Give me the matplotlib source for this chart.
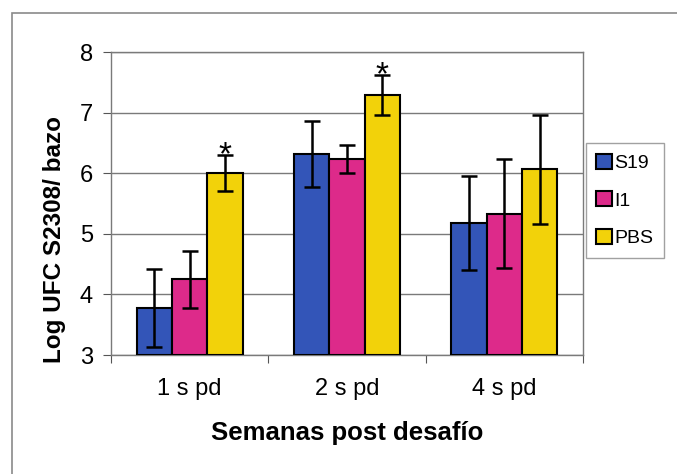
import numpy as np
import matplotlib.pyplot as plt
from matplotlib.patches import Rectangle

plt.rcParams['font.family'] = ['Liberation Sans', 'DejaVu Sans']

grupos = ['1 s pd', '2 s pd', '4 s pd']
series = ['S19', 'I1', 'PBS']
colores = ['#3355b8', '#dd2a8a', '#f2d20a']
medias = [
    [3.78, 6.32, 5.18],   # S19
    [4.25, 6.23, 5.33],   # I1
    [6.00, 7.30, 6.07],   # PBS
]
errores = [
    [0.64, 0.55, 0.77],
    [0.47, 0.23, 0.90],
    [0.30, 0.33, 0.90],
]
significativo = [True, True, False]  # asterisco sobre PBS

fig = plt.figure(figsize=(6.77, 4.74), dpi=100)
fig.patches.append(Rectangle((0.017, -0.1), 1.1, 1.073, transform=fig.transFigure,
                             fill=False, edgecolor='#8a8a8a', linewidth=1.2))
ax = fig.add_axes([0.164, 0.251, 0.697, 0.639])

x = np.arange(len(grupos))
w = 0.225
for i, s in enumerate(series):
    pos = x + (i - 1) * w
    ax.bar(pos, np.array(medias[i]) - 3, w, bottom=3, color=colores[i],
           edgecolor='black', linewidth=1.5, label=s, zorder=3)
    ax.errorbar(pos, medias[i], yerr=errores[i], fmt='none', ecolor='black',
                elinewidth=1.8, capsize=6, capthick=1.8, zorder=4)

for j, sig in enumerate(significativo):
    if sig:
        ax.text(x[j] + w, medias[2][j] + errores[2][j] - 0.27, '*', ha='center',
                va='bottom', fontsize=24, zorder=5)

ax.set_xlim(-0.5, 2.5)
ax.set_ylim(3, 8)
ax.set_yticks([3, 4, 5, 6, 7, 8])
ax.yaxis.grid(True, color='#7a7a7a', linewidth=1.0, zorder=0)
ax.set_xticks([-0.5, 0.5, 1.5, 2.5])
ax.set_xticklabels([])
ax.set_xticks(x, minor=True)
ax.set_xticklabels(grupos, minor=True, fontsize=17)
ax.tick_params(axis='x', which='minor', length=0, pad=16.5)
ax.tick_params(axis='x', which='major', length=6, color='#555555')
ax.tick_params(axis='y', length=6, color='#555555', labelsize=17, pad=7)
for sp in ax.spines.values():
    sp.set_color('#7a7a7a')
    sp.set_linewidth(1.0)

ax.set_ylabel('Log UFC S2308/ bazo', fontsize=17.5, fontweight='bold')
ax.yaxis.set_label_coords(-0.095, 0.383)
ax.set_xlabel('Semanas post desafío', fontsize=18.5, fontweight='bold', labelpad=15)

leg = ax.legend(loc='upper left', bbox_to_anchor=(1.006, 0.70), fontsize=14,
                frameon=True, fancybox=False, edgecolor='#8a8a8a',
                handlelength=0.8, handleheight=0.8, handletextpad=0.1,
                borderpad=0.55, labelspacing=1.0, borderaxespad=0)
leg.get_frame().set_linewidth(1.0)

fig.savefig('out.png', dpi=100)
